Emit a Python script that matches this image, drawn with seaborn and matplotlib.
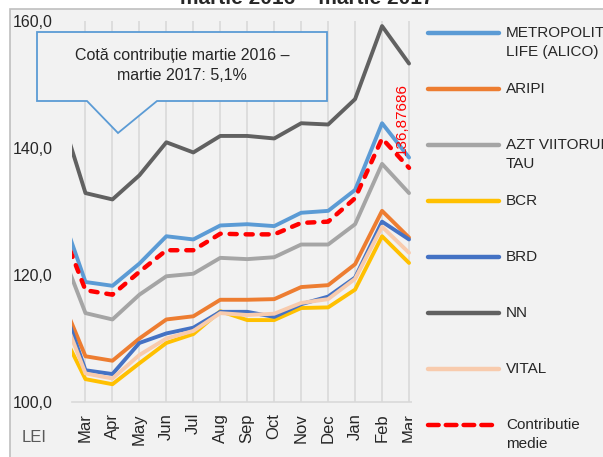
import numpy as np
import seaborn as sns
from matplotlib import pyplot as plt
from matplotlib import font_manager
from matplotlib.patches import Rectangle, Polygon
from matplotlib.lines import Line2D

# first entry (Feb 2016) sits left of the visible axis and only shows as the clipped start
periods = ['Feb', 'Mar', 'Apr', 'May', 'Jun', 'Jul', 'Aug', 'Sep', 'Oct', 'Nov', 'Dec', 'Jan', 'Feb', 'Mar']

metropolitan = [131.1, 118.9, 118.3, 121.8, 126.1, 125.6, 127.8, 128.0, 127.7, 129.8, 130.1, 133.4, 143.9, 138.5]
aripi = [117.4, 107.2, 106.5, 110.0, 113.0, 113.5, 116.1, 116.1, 116.2, 118.1, 118.4, 121.7, 130.1, 125.9]
azt = [125.0, 114.0, 113.0, 116.9, 119.8, 120.2, 122.7, 122.5, 122.8, 124.8, 124.8, 128.0, 137.5, 132.9]
bcr = [112.2, 103.6, 102.8, 106.1, 109.3, 110.7, 114.3, 112.9, 112.9, 114.8, 114.9, 117.7, 126.1, 121.9]
brd = [117.2, 105.0, 104.4, 109.3, 110.8, 111.7, 114.2, 114.2, 113.4, 115.4, 116.6, 119.6, 128.4, 125.6]
nn = [146.5, 132.9, 131.9, 135.7, 140.9, 139.3, 141.9, 141.9, 141.5, 143.9, 143.7, 147.7, 159.2, 153.3]
vital = [115.5, 104.5, 103.7, 107.4, 110.0, 111.2, 114.0, 113.7, 113.9, 115.6, 116.2, 119.4, 127.6, 123.5]
medie = [128.6, 117.6, 116.9, 120.5, 123.9, 123.9, 126.5, 126.4, 126.4, 128.2, 128.4, 132.1, 141.5, 136.87686]

series_names = ['METROPOLITAN\nLIFE (ALICO)', 'ARIPI', 'AZT VIITORUL\nTAU', 'BCR', 'BRD', 'NN', 'VITAL',
                'Contributie\nmedie']
series_values = [metropolitan, aripi, azt, bcr, brd, nn, vital, medie]
series_colors = ['#5b9bd5', '#ed7d31', '#a5a5a5', '#ffc000', '#4472c4', '#616161', '#f8cbad', '#ff0000']

y_ticks = [100, 120, 140, 160]

sns.set_style('white')
names = {f.name for f in font_manager.fontManager.ttflist}
FONT = 'Liberation Sans Narrow' if 'Liberation Sans Narrow' in names else 'Liberation Sans'
plt.rcParams['font.family'] = [FONT, 'DejaVu Sans']

BG = '#f2f2f2'
W, H = 603, 457
fig = plt.figure(figsize=(W / 100, H / 100), dpi=100, facecolor='white')


def fx(px):
    return px / W


def fy(py):
    return 1 - py / H


# chart area frame
fig.patches.append(Rectangle((fx(10), -0.1), 1.2, fy(9) + 0.1, transform=fig.transFigure,
                             facecolor=BG, edgecolor='#bfbfbf', lw=1.2, zorder=-5))

ax = fig.add_axes([fx(72), fy(402), fx(422.5) - fx(72), fy(21) - fy(402)])
ax.set_facecolor('none')

x = np.arange(len(periods)) - 1
for name, vals, col in zip(series_names, series_values, series_colors):
    if name.startswith('Contributie'):
        sns.lineplot(x=x, y=vals, ax=ax, color=col, lw=3.2, dashes=(1.6, 2.0),
                     dash_capstyle='round', legend=False, zorder=4)
    else:
        sns.lineplot(x=x, y=vals, ax=ax, color=col, lw=2.8, legend=False, zorder=3)

ax.set_xlim(-0.5, 12.5)
ax.set_ylim(100, 160)
ax.set_xticks(x[1:])
ax.set_xticklabels(periods[1:], rotation=90, fontsize=12)
ax.set_xticks(np.arange(-0.5, 13, 1), minor=True)
ax.tick_params(axis='x', which='major', length=0, pad=8)
ax.tick_params(axis='x', which='minor', length=5, color='#d9d9d9', width=1.2, direction='out')
ax.set_yticks(y_ticks)
ax.set_yticklabels(['{:.1f}'.format(v).replace('.', ',') for v in y_ticks], fontsize=11.5)
ax.tick_params(axis='y', length=0, pad=14)
ax.grid(axis='x', color='#d9d9d9', lw=1.2)
ax.grid(axis='y', visible=False)
for side in ['left', 'right', 'top']:
    ax.spines[side].set_visible(False)
ax.spines['bottom'].set_color('#d9d9d9')
ax.spines['bottom'].set_linewidth(1.2)
ax.set_xlabel('')
ax.set_ylabel('')

ax.annotate('{:.5f}'.format(medie[-1]).replace('.', ','), xy=(x[-1], medie[-1]),
            xytext=(-7, 13), textcoords='offset pixels', rotation=90,
            ha='center', va='bottom', color='#ff0000', fontsize=11)

# callout box
bubble = [(37, 32), (327, 32), (327, 101), (157, 101), (118, 133), (87, 101), (37, 101)]
fig.patches.append(Polygon([(fx(a), fy(b)) for a, b in bubble], closed=True, transform=fig.transFigure,
                           facecolor=BG, edgecolor='#5b9bd5', lw=1.3, zorder=2))
fig.text(fx(182), fy(65.5), 'Cotă contribuție martie 2016 –\nmartie 2017: 5,1%', ha='center', va='center',
         fontsize=11.5, linespacing=1.45, zorder=3)

fig.text(fx(22), fy(438), 'LEI', ha='left', va='center', fontsize=12, color='#595959')

fig.text(fx(307), fy(4), 'martie 2016 – martie 2017', ha='center', va='baseline',
         fontsize=15, fontweight='bold')

# legend panel covers the right end of the plot
fig.patches.append(Rectangle((fx(412), -0.1), 1, fy(10) + 0.1, transform=fig.transFigure,
                             facecolor=BG, edgecolor='none', zorder=5))
for i, (name, col) in enumerate(zip(series_names, series_colors)):
    yc = 33 + 56 * i
    if name.startswith('Contributie'):
        fig.lines.append(Line2D([fx(428), fx(499)], [fy(yc), fy(yc)], transform=fig.transFigure,
                                color=col, lw=3.2, dashes=(2.4, 1.6), dash_capstyle='round', zorder=6))
    else:
        fig.lines.append(Line2D([fx(428), fx(499)], [fy(yc), fy(yc)], transform=fig.transFigure,
                                color=col, lw=3.2, solid_capstyle='round', zorder=6))
    for j, part in enumerate(name.split('\n')):
        fig.text(fx(506), fy(yc + 19 * j), part, ha='left', va='center', fontsize=11, zorder=7)

plt.savefig('out.png', dpi=100, facecolor=fig.get_facecolor())
